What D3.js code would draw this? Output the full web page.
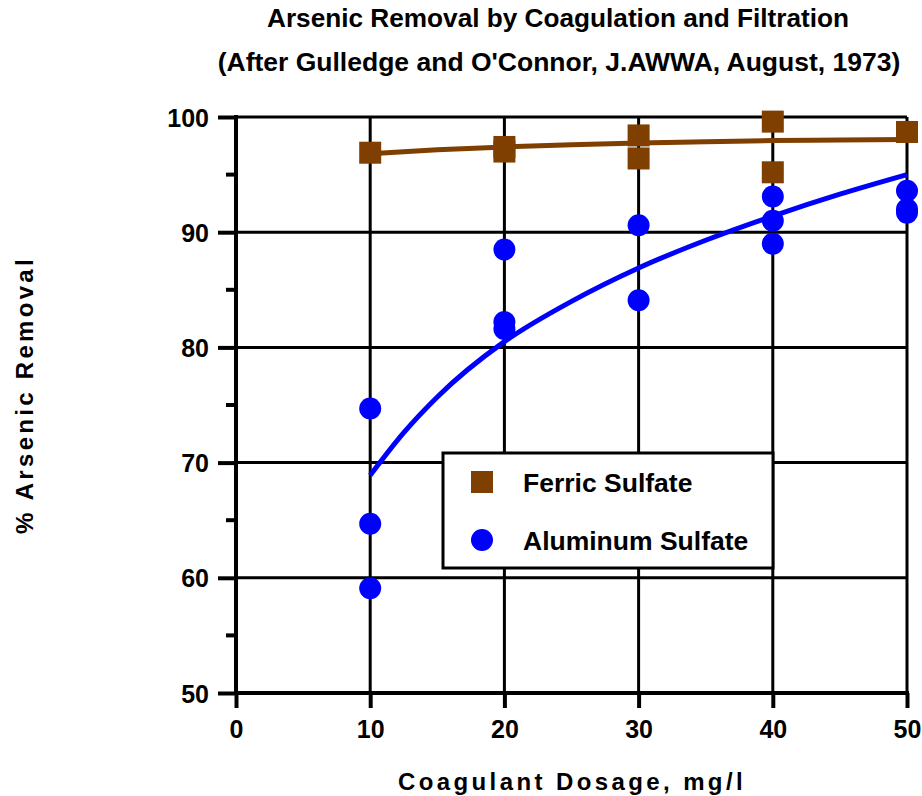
<!DOCTYPE html>
<html>
<head>
<meta charset="utf-8">
<script src="https://cdn.jsdelivr.net/npm/d3@7/dist/d3.min.js"></script>
<style>
  body { margin: 0; background: #fff; }
  text { font-family: Arial, "Liberation Sans", sans-serif; font-weight: bold; fill: #000; }
</style>
</head>
<body>
<svg id="chart" width="922" height="796"></svg>
<script>
// data
const dosageTicks = [0, 10, 20, 30, 40, 50];
const removalTicks = [50, 60, 70, 80, 90, 100];
const minorTicks = [55, 65, 75, 85, 95];

const ferricDose = [10, 20, 20, 30, 30, 40, 40, 50];
const ferricRemoval = [96.9, 97.4, 97.0, 98.4, 96.4, 99.6, 95.2, 98.7];

const aluminumDose = [10, 10, 10, 20, 20, 20, 30, 30, 40, 40, 40, 50, 50, 50];
const aluminumRemoval = [74.7, 64.7, 59.1, 88.5, 82.2, 81.6, 90.6, 84.1, 93.1, 91.0, 89.0, 93.6, 92.0, 91.7];

// fitted curves as drawn
const ferricFitDose = [10, 15, 20, 25, 30, 35, 40, 45, 50];
const ferricFit = [96.8, 97.15, 97.4, 97.6, 97.75, 97.85, 97.95, 98.0, 98.05];
const aluminumFitDose = [10, 12.5, 15, 20, 25, 30, 35, 40, 45, 50];
const aluminumFit = [68.9, 72.6, 75.7, 80.5, 84.0, 86.9, 89.3, 91.4, 93.3, 95.0];

const brown = "#7f3f00";
const blue = "#0000ff";

const svg = d3.select("#chart");

const x = d3.scaleLinear().domain([0, 50]).range([236, 907]);
const y = d3.scaleLinear().domain([50, 100]).range([693, 117]);

// title
svg.append("text").attr("x", 558).attr("y", 27).attr("text-anchor", "middle")
    .style("font-size", "26.2px").text("Arsenic Removal by Coagulation and Filtration");
svg.append("text").attr("x", 559).attr("y", 71).attr("text-anchor", "middle")
    .style("font-size", "26.5px").text("(After Gulledge and O'Connor, J.AWWA, August, 1973)");

// grid
let grid = svg.append("g").attr("stroke", "#000").attr("stroke-width", 3);
grid.selectAll(".hgrid").data(removalTicks.slice(1)).enter().append("line")
    .attr("x1", x(0)).attr("x2", x(50))
    .attr("y1", d => y(d)).attr("y2", d => y(d));
grid.selectAll(".vgrid").data(dosageTicks.slice(1)).enter().append("line")
    .attr("x1", d => x(d)).attr("x2", d => x(d))
    .attr("y1", y(100)).attr("y2", y(50));

// axes
const yAxis = d3.axisLeft(y).tickValues(removalTicks).tickSize(18).tickFormat(d3.format("d"));
const xAxis = d3.axisBottom(x).tickValues(dosageTicks).tickSize(15).tickFormat(d3.format("d"));

let gy = svg.append("g").attr("transform", `translate(${x(0)},0)`).call(yAxis);
let gx = svg.append("g").attr("transform", `translate(0,${y(50)})`).call(xAxis);

[gx, gy].forEach(g => {
    g.select(".domain").remove();
    g.selectAll(".tick line").attr("stroke", "#000").attr("stroke-width", 4);
    g.selectAll(".tick text").style("font-size", "25px").attr("fill", "#000")
        .style("font-family", "Arial, 'Liberation Sans', sans-serif");
});
gy.selectAll(".tick text").attr("x", -27).attr("dy", "0.36em")
    .attr("fill", d => d === 90 ? "#ff0000" : "#000");
gx.selectAll(".tick text").attr("y", 27).attr("dy", "0.71em");

svg.append("g").selectAll("line").data(minorTicks).enter().append("line")
    .attr("x1", x(0) - 10).attr("x2", x(0))
    .attr("y1", d => y(d)).attr("y2", d => y(d))
    .attr("stroke", "#000").attr("stroke-width", 4);

svg.append("line").attr("x1", x(0)).attr("x2", x(0))
    .attr("y1", y(100) - 2).attr("y2", y(50) + 2)
    .attr("stroke", "#000").attr("stroke-width", 4);
svg.append("line").attr("x1", x(0) - 2).attr("x2", x(50) + 2)
    .attr("y1", y(50)).attr("y2", y(50))
    .attr("stroke", "#000").attr("stroke-width", 4);

// fit curves
const line = d3.line().curve(d3.curveMonotoneX);
svg.append("path")
    .attr("d", line(ferricFitDose.map((d, i) => [x(d), y(ferricFit[i])])))
    .attr("fill", "none").attr("stroke", brown).attr("stroke-width", 5);
svg.append("path")
    .attr("d", line(aluminumFitDose.map((d, i) => [x(d), y(aluminumFit[i])])))
    .attr("fill", "none").attr("stroke", blue).attr("stroke-width", 5);

// points
const sq = 22, r = 11;
svg.append("g").selectAll("rect").data(ferricDose).enter().append("rect")
    .attr("x", d => x(d) - sq / 2)
    .attr("y", (d, i) => y(ferricRemoval[i]) - sq / 2)
    .attr("width", sq).attr("height", sq).attr("fill", brown);
svg.append("g").selectAll("circle").data(aluminumDose).enter().append("circle")
    .attr("cx", d => x(d))
    .attr("cy", (d, i) => y(aluminumRemoval[i]))
    .attr("r", r).attr("fill", blue);

// legend
let legend = svg.append("g");
legend.append("rect").attr("x", 443).attr("y", 453).attr("width", 330).attr("height", 115)
    .attr("fill", "#fff").attr("stroke", "#000").attr("stroke-width", 3);
legend.append("rect").attr("x", 482 - sq / 2).attr("y", 482 - sq / 2)
    .attr("width", sq).attr("height", sq).attr("fill", brown);
legend.append("circle").attr("cx", 482).attr("cy", 540).attr("r", r).attr("fill", blue);
legend.append("text").attr("x", 523).attr("y", 492).style("font-size", "26.5px").text("Ferric Sulfate");
legend.append("text").attr("x", 523).attr("y", 550).style("font-size", "26.5px").text("Aluminum Sulfate");

// axis titles
svg.append("text").attr("x", 572).attr("y", 790).attr("text-anchor", "middle")
    .style("font-size", "24px").style("letter-spacing", "3.4px")
    .text("Coagulant Dosage, mg/l");
svg.append("text").attr("transform", "translate(33,395) rotate(-90)").attr("text-anchor", "middle")
    .style("font-size", "24px").style("letter-spacing", "3.3px")
    .text("% Arsenic Removal");
</script>
</body>
</html>
